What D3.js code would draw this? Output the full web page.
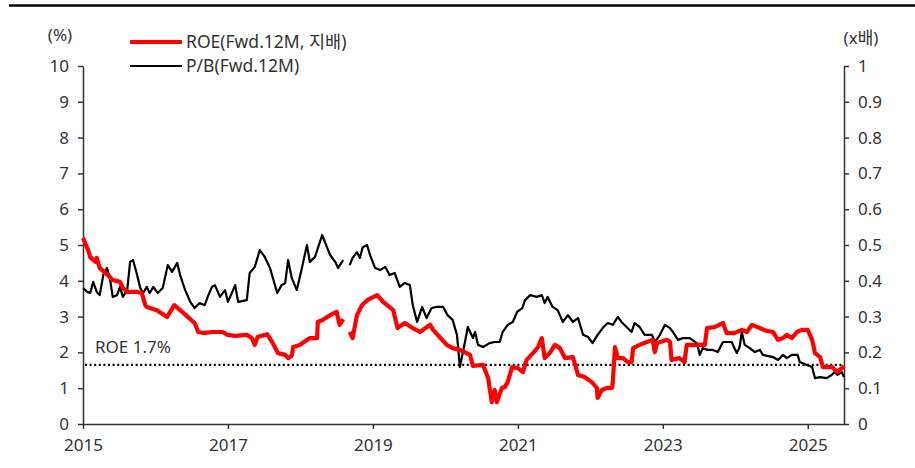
<!DOCTYPE html>
<html>
<head>
<meta charset="utf-8">
<script src="https://cdn.jsdelivr.net/npm/d3@7"></script>
<style>
  body { margin: 0; background: #fff; }
  svg text { font-family: "Noto Sans", "Noto Sans CJK KR", sans-serif; fill: #333; }
</style>
</head>
<body>
<div id="chart"></div>
<script>
// data (decimal years), null marks the gap in 2018
const roeDates = [2015.00, 2015.07, 2015.10, 2015.17, 2015.19, 2015.23, 2015.37, 2015.41, 2015.51, 2015.55, 2015.61, 2015.74, 2015.81, 2015.86, 2015.88,
  2016.02, 2016.16, 2016.26, 2016.34, 2016.43, 2016.54, 2016.59, 2016.66, 2016.79, 2016.93, 2016.99,
  2017.10, 2017.26, 2017.33, 2017.37, 2017.41, 2017.54, 2017.61, 2017.69, 2017.79, 2017.83, 2017.88, 2017.90, 2017.99,
  2018.13, 2018.23, 2018.24, 2018.31, 2018.41, 2018.50, 2018.54, 2018.59, 2018.63, 2018.68, 2018.72, 2018.78, 2018.85, 2018.92,
  2019.06, 2019.14, 2019.28, 2019.34, 2019.44, 2019.55, 2019.65, 2019.79, 2019.83, 2019.92,
  2020.02, 2020.10, 2020.20, 2020.34, 2020.38, 2020.52, 2020.59, 2020.64, 2020.68, 2020.71, 2020.78, 2020.82, 2020.86, 2020.92,
  2021.00, 2021.07, 2021.12, 2021.21, 2021.28, 2021.33, 2021.37, 2021.44, 2021.51, 2021.58, 2021.65, 2021.76, 2021.83, 2021.92,
  2022.02, 2022.09, 2022.10, 2022.16, 2022.23, 2022.30, 2022.31, 2022.34, 2022.38, 2022.45, 2022.52, 2022.57, 2022.59, 2022.68, 2022.78, 2022.86, 2022.89, 2022.92,
  2023.06, 2023.10, 2023.12, 2023.23, 2023.30, 2023.33, 2023.51, 2023.58, 2023.61, 2023.72, 2023.83, 2023.88, 2023.99,
  2024.09, 2024.16, 2024.23, 2024.34, 2024.43, 2024.52, 2024.59, 2024.66, 2024.71, 2024.78, 2024.85, 2024.92,
  2025.00, 2025.06, 2025.10, 2025.17, 2025.21, 2025.34, 2025.40, 2025.47, 2025.50];
const roeValues = [5.20, 4.86, 4.66, 4.53, 4.64, 4.36, 4.11, 4.02, 3.97, 3.80, 3.69, 3.69, 3.66, 3.32, 3.27,
  3.18, 2.99, 3.32, 3.18, 3.02, 2.82, 2.57, 2.54, 2.57, 2.57, 2.49,
  2.46, 2.49, 2.40, 2.21, 2.43, 2.51, 2.29, 1.98, 1.93, 1.84, 1.90, 2.15, 2.21,
  2.40, 2.40, 2.85, 2.91, 3.04, 3.13, 2.77, 2.93, null, 2.57, 2.40, 3.04, 3.32, 3.46,
  3.60, 3.41, 3.18, 2.68, 2.82, 2.68, 2.57, 2.77, 2.63, 2.43,
  2.21, 2.12, 2.07, 1.93, 1.62, 1.65, 1.28, 0.61, 0.95, 0.61, 1.01, 1.03, 1.17, 1.59,
  1.56, 1.45, 1.79, 1.98, 2.15, 2.40, 1.84, 1.98, 2.21, 2.12, 1.84, 1.87, 1.37, 1.31,
  1.17, 1.01, 0.73, 0.95, 1.01, 1.01, 1.17, 2.15, 1.84, 1.84, 1.73, 1.73, 2.12, 2.21, 2.29, 2.35, 2.01, 2.26,
  2.35, 2.29, 1.79, 1.84, 1.73, 2.21, 2.21, 2.21, 2.68, 2.71, 2.82, 2.54, 2.54,
  2.63, 2.57, 2.77, 2.68, 2.60, 2.57, 2.35, 2.40, 2.49, 2.40, 2.57, 2.63,
  2.63, 2.35, 1.98, 1.87, 1.59, 1.59, 1.45, 1.56, 1.62];

const pbDates = [2015.00, 2015.06, 2015.10, 2015.14, 2015.19, 2015.23, 2015.28, 2015.33, 2015.37, 2015.41, 2015.47, 2015.51, 2015.55, 2015.61, 2015.65, 2015.69, 2015.74, 2015.79, 2015.83, 2015.88, 2015.92, 2015.97,
  2016.03, 2016.10, 2016.17, 2016.23, 2016.30, 2016.34, 2016.41, 2016.48, 2016.54, 2016.61, 2016.68, 2016.72, 2016.78, 2016.82, 2016.89, 2016.96,
  2017.00, 2017.10, 2017.14, 2017.26, 2017.30, 2017.37, 2017.44, 2017.51, 2017.58, 2017.62, 2017.68, 2017.74, 2017.79, 2017.83, 2017.88, 2017.95,
  2018.02, 2018.09, 2018.13, 2018.20, 2018.30, 2018.37, 2018.41, 2018.48, 2018.52, 2018.59, 2018.63, 2018.68, 2018.72, 2018.78, 2018.82, 2018.86, 2018.92, 2018.96,
  2019.03, 2019.10, 2019.17, 2019.23, 2019.30, 2019.37, 2019.44, 2019.51, 2019.55, 2019.61, 2019.68, 2019.74, 2019.81, 2019.88, 2019.97,
  2020.03, 2020.10, 2020.16, 2020.20, 2020.27, 2020.31, 2020.38, 2020.41, 2020.45, 2020.52, 2020.61, 2020.68, 2020.75, 2020.79, 2020.86, 2020.93, 2020.99,
  2021.06, 2021.10, 2021.17, 2021.26, 2021.33, 2021.37, 2021.41, 2021.48, 2021.55, 2021.62, 2021.69, 2021.76, 2021.83, 2021.90, 2021.97,
  2022.03, 2022.10, 2022.17, 2022.24, 2022.31, 2022.38, 2022.43, 2022.50, 2022.57, 2022.61, 2022.68, 2022.75, 2022.85, 2022.89, 2022.96,
  2023.03, 2023.10, 2023.14, 2023.21, 2023.28, 2023.37, 2023.47, 2023.51, 2023.55, 2023.62, 2023.69, 2023.76, 2023.83, 2023.95,
  2024.02, 2024.06, 2024.09, 2024.13, 2024.20, 2024.27, 2024.34, 2024.38, 2024.52, 2024.59, 2024.66, 2024.71, 2024.78, 2024.86, 2024.89, 2024.99,
  2025.06, 2025.10, 2025.17, 2025.26, 2025.33, 2025.37, 2025.41, 2025.47, 2025.50];
const pbValues = [0.380, 0.369, 0.366, 0.397, 0.369, 0.360, 0.416, 0.436, 0.408, 0.355, 0.360, 0.383, 0.355, 0.374, 0.453, 0.458, 0.422, 0.380, 0.366, 0.383, 0.366, 0.383,
  0.366, 0.380, 0.444, 0.425, 0.450, 0.416, 0.374, 0.341, 0.324, 0.338, 0.332, 0.355, 0.383, 0.388, 0.355, 0.374,
  0.341, 0.388, 0.341, 0.346, 0.422, 0.439, 0.486, 0.466, 0.436, 0.408, 0.366, 0.388, 0.394, 0.458, 0.408, 0.374,
  0.436, 0.500, 0.453, 0.466, 0.528, 0.492, 0.472, 0.453, 0.436, 0.458, null, 0.444, 0.464, 0.480, 0.464, 0.494, 0.500, 0.472,
  0.436, 0.430, 0.439, 0.416, 0.422, 0.383, 0.394, 0.388, 0.332, 0.285, 0.327, 0.296, 0.324, 0.327, 0.327,
  0.304, 0.291, 0.249, 0.159, 0.229, 0.271, 0.240, 0.257, 0.221, 0.215, 0.226, 0.229, 0.229, 0.257, 0.277, 0.285, 0.313,
  0.324, 0.346, 0.360, 0.355, 0.360, 0.338, 0.355, 0.327, 0.318, 0.285, 0.304, 0.285, 0.296, 0.249, 0.243,
  0.226, 0.249, 0.268, 0.282, 0.277, 0.299, 0.285, 0.271, 0.257, 0.282, 0.271, 0.249, 0.249, 0.229, 0.249,
  0.277, 0.268, 0.257, 0.235, 0.240, 0.240, 0.226, 0.193, 0.212, 0.207, 0.207, 0.201, 0.229, 0.229,
  0.198, 0.215, 0.257, 0.221, 0.212, 0.201, 0.207, 0.193, 0.187, 0.179, 0.193, 0.184, 0.193, 0.193, 0.173, 0.165,
  0.159, 0.128, 0.131, 0.128, 0.137, 0.145, 0.137, 0.145, 0.131];

const roeRef = 1.65; // ROE 1.7% line
const yearTicks = [2015, 2017, 2019, 2021, 2023, 2025];
const leftTicks = [0, 1, 2, 3, 4, 5, 6, 7, 8, 9, 10];
const rightTicks = [0, 0.1, 0.2, 0.3, 0.4, 0.5, 0.6, 0.7, 0.8, 0.9, 1];

const width = 915;
const height = 468;
const MARGIN_TOP = 66;
const MARGIN_BOTTOM = 44;
const MARGIN_LEFT = 83;
const MARGIN_RIGHT = 71;
const FONT = 17;

const svg = d3.select('#chart').append('svg')
  .attr('width', width)
  .attr('height', height);

const x = d3.scaleLinear()
  .domain([2015, 2025.5])
  .range([MARGIN_LEFT, width - MARGIN_RIGHT]);
const yL = d3.scaleLinear()
  .domain([0, 10])
  .range([height - MARGIN_BOTTOM, MARGIN_TOP]);
const yR = d3.scaleLinear()
  .domain([0, 1])
  .range([height - MARGIN_BOTTOM, MARGIN_TOP]);

// top rule
svg.append('line')
  .attr('x1', 9).attr('x2', width)
  .attr('y1', 5.5).attr('y2', 5.5)
  .attr('stroke', '#000').attr('stroke-width', 2.5);

// axes
const styleAxis = g => {
  g.selectAll('.domain').attr('stroke', '#333').attr('stroke-width', 1.5);
  g.selectAll('.tick line').attr('stroke', '#333').attr('stroke-width', 1.5);
  g.selectAll('.tick text').attr('font-size', FONT).attr('fill', '#333')
    .style('font-family', '"Noto Sans", "Noto Sans CJK KR", sans-serif');
};

svg.append('g')
  .attr('transform', `translate(0,${height - MARGIN_BOTTOM})`)
  .call(d3.axisBottom(x).tickValues(yearTicks).tickFormat(d3.format('d')).tickSize(5).tickSizeOuter(0).tickPadding(10))
  .call(styleAxis);

svg.append('g')
  .attr('transform', `translate(${MARGIN_LEFT},0)`)
  .call(d3.axisLeft(yL).tickValues(leftTicks).tickSize(5).tickSizeOuter(0).tickPadding(9))
  .call(styleAxis);

svg.append('g')
  .attr('transform', `translate(${width - MARGIN_RIGHT},0)`)
  .call(d3.axisRight(yR).tickValues(rightTicks).tickFormat(d => d === 0 || d === 1 ? d3.format('d')(d) : d3.format('.1f')(d)).tickSize(5).tickSizeOuter(0).tickPadding(9))
  .call(styleAxis);

// unit labels
svg.append('text').attr('x', 60).attr('y', 41).attr('text-anchor', 'middle')
  .attr('font-size', FONT).text('(%)');
svg.append('text').attr('x', 861).attr('y', 44).attr('text-anchor', 'middle')
  .attr('font-size', FONT).text('(x배)');

// reference line
svg.append('line')
  .attr('x1', x(2015) + 2).attr('x2', x(2025.5))
  .attr('y1', yL(roeRef)).attr('y2', yL(roeRef))
  .attr('stroke', '#000').attr('stroke-width', 2.2)
  .attr('stroke-dasharray', '2,2.6');
svg.append('text').attr('x', x(2015) + 12).attr('y', yL(roeRef) - 12)
  .attr('font-size', FONT).text('ROE 1.7%');

// lines
const roeData = roeDates.map((d, i) => ({ date: d, value: roeValues[i] }));
const pbData = pbDates.map((d, i) => ({ date: d, value: pbValues[i] }));

const lineL = d3.line().defined(d => d.value !== null).x(d => x(d.date)).y(d => yL(d.value));
const lineR = d3.line().defined(d => d.value !== null).x(d => x(d.date)).y(d => yR(d.value));

svg.append('path').datum(pbData)
  .attr('d', lineR)
  .attr('fill', 'none').attr('stroke', '#000').attr('stroke-width', 2.2)
  .attr('stroke-linejoin', 'round');

svg.append('path').datum(roeData)
  .attr('d', lineL)
  .attr('fill', 'none').attr('stroke', '#ff0000').attr('stroke-width', 4.2)
  .attr('stroke-linejoin', 'round');

// legend
const legend = [
  { label: 'ROE(Fwd.12M, 지배)', color: '#ff0000', w: 4, y: 42 },
  { label: 'P/B(Fwd.12M)', color: '#000', w: 2.2, y: 66 }
];
const lg = svg.append('g').selectAll('g').data(legend).join('g');
lg.append('line')
  .attr('x1', 130).attr('x2', 182)
  .attr('y1', d => d.y).attr('y2', d => d.y)
  .attr('stroke', d => d.color).attr('stroke-width', d => d.w);
lg.append('text')
  .attr('x', 186).attr('y', d => d.y).attr('dy', '0.35em')
  .attr('font-size', FONT + 0.5).text(d => d.label);
</script>
</body>
</html>
